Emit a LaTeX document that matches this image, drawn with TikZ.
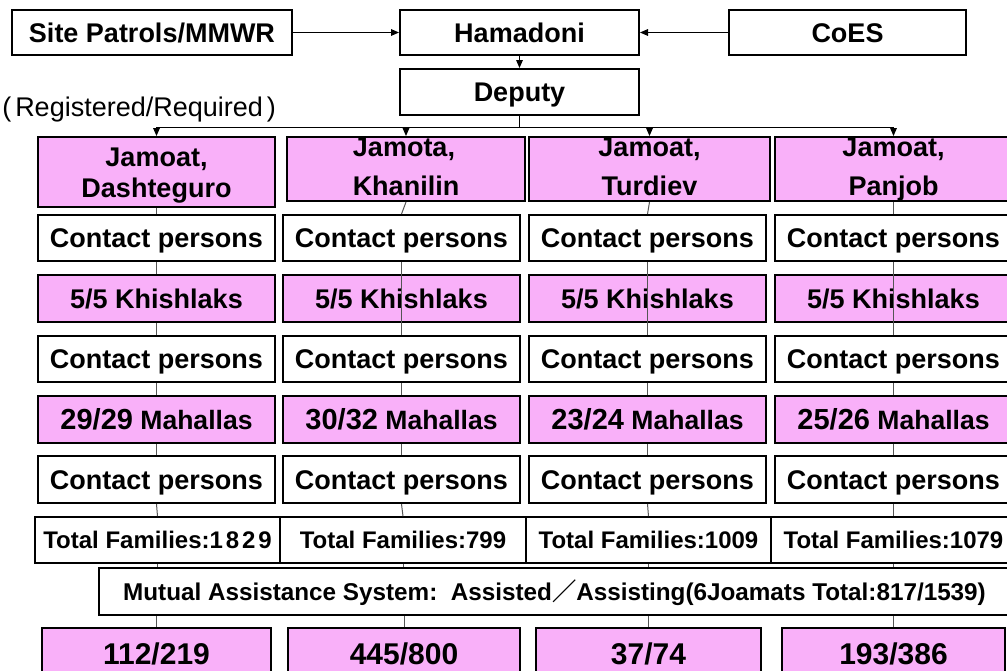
\documentclass[tikz,border=0pt]{standalone}
\usepackage{fontspec}
\setmainfont{Liberation Sans}
\newfontfamily\cjk{Noto Sans CJK JP}
\usetikzlibrary{arrows.meta}
\definecolor{cellpink}{RGB}{249,176,249}
\definecolor{linkgray}{RGB}{85,85,85}

% box given by its corners in pixel units: style, name, x1, y1, x2, y2, text
\newcommand\cellnode[7]{%
  \node[#1, minimum width={(#5-#3)*0.75pt}, minimum height={(#6-#4)*0.75pt}]
    (#2) at ({(#3+#5)/2},{(#4+#6)/2}) {#7};}
\newcommand\mahal[1]{{\fontsize{21.75}{24}\selectfont #1}\ Mahallas}

\tikzset{
  box/.style={draw=black, line width=1.5pt, inner sep=0pt,
    font=\bfseries\fontsize{20.25}{24}\selectfont, text height=14.5pt, text depth=0pt},
  pinkbox/.style={box, fill=cellpink},
  whitebox/.style={box, fill=white},
  mahbox/.style={pinkbox, font=\bfseries\fontsize{19.9}{24}\selectfont, text height=15.6pt},
  fambox/.style={whitebox, line width=1.2pt, font=\bfseries\fontsize{18}{22}\selectfont, text height=12.9pt},
  numbox/.style={pinkbox, font=\bfseries\fontsize{22.5}{27}\selectfont, text height=16.1pt},
  jamline/.style={font=\bfseries\fontsize{20.25}{24}\selectfont, inner sep=0pt, anchor=base},
  flow/.style={draw=black, line width=0.75pt, -{Triangle[length=6pt,width=5pt]}},
  link/.style={draw=linkgray, line width=0.75pt},
}

\begin{document}
\begin{tikzpicture}[x=0.75pt,y=-0.75pt]
\useasboundingbox (0,0) rectangle (1007,671);
\clip (0,0) rectangle (1007,671);
\fill[white] (0,0) rectangle (1007,671);

% top level
\cellnode{whitebox}{site}{12}{10}{292}{55}{Site Patrols/MMWR}
\cellnode{whitebox}{ham}{400}{10}{639}{55}{Hamadoni}
\cellnode{whitebox}{coes}{729}{10}{966}{55}{CoES}
\cellnode{whitebox}{dep}{400}{69}{639}{115}{Deputy}
\node[font=\fontsize{20.25}{24}\selectfont, inner sep=0pt, anchor=base west] (regnote) at (2,116)
  {(\kern3pt Registered/Required\kern3pt)};

% jamoats
\cellnode{pinkbox}{jam1}{38}{137}{275}{207}{}
\cellnode{pinkbox}{jam2}{287}{137}{525}{201}{}
\cellnode{pinkbox}{jam3}{529}{137}{770}{201}{}
\cellnode{pinkbox}{jam4}{775}{137}{1012}{201}{}
\node[jamline] (jam1a) at (156.5,166) {Jamoat,};
\node[jamline] (jam1b) at (156.5,197) {Dashteguro};
\node[jamline] (jam2a) at (404,156) {Jamota,};
\node[jamline] (jam2b) at (406,195) {Khanilin};
\node[jamline] (jam3a) at (649.5,156) {Jamoat,};
\node[jamline] (jam3b) at (649.5,195) {Turdiev};
\node[jamline] (jam4a) at (893.5,156) {Jamoat,};
\node[jamline] (jam4b) at (893.5,195) {Panjob};

% contact persons, khishlaks, mahallas
\cellnode{whitebox}{ca1}{38}{215}{275}{261}{Contact persons}
\cellnode{whitebox}{ca2}{283}{215}{520}{261}{Contact persons}
\cellnode{whitebox}{ca3}{529}{215}{766}{261}{Contact persons}
\cellnode{whitebox}{ca4}{775}{215}{1012}{261}{Contact persons}

\cellnode{pinkbox}{kh1}{38}{275}{275}{322}{5/5 Khishlaks}
\cellnode{pinkbox}{kh2}{283}{275}{520}{322}{5/5 Khishlaks}
\cellnode{pinkbox}{kh3}{529}{275}{766}{322}{5/5 Khishlaks}
\cellnode{pinkbox}{kh4}{775}{275}{1012}{322}{5/5 Khishlaks}

\cellnode{whitebox}{cb1}{38}{336}{275}{382}{Contact persons}
\cellnode{whitebox}{cb2}{283}{336}{520}{382}{Contact persons}
\cellnode{whitebox}{cb3}{529}{336}{766}{382}{Contact persons}
\cellnode{whitebox}{cb4}{775}{336}{1012}{382}{Contact persons}

\cellnode{mahbox}{mh1}{38}{396}{275}{443}{\mahal{29/29}}
\cellnode{mahbox}{mh2}{283}{396}{520}{443}{\mahal{30/32}}
\cellnode{mahbox}{mh3}{529}{396}{766}{443}{\mahal{23/24}}
\cellnode{mahbox}{mh4}{775}{396}{1012}{443}{\mahal{25/26}}

\cellnode{whitebox}{cc1}{38}{456}{275}{503}{Contact persons}
\cellnode{whitebox}{cc2}{283}{456}{520}{503}{Contact persons}
\cellnode{whitebox}{cc3}{529}{456}{766}{503}{Contact persons}
\cellnode{whitebox}{cc4}{775}{456}{1012}{503}{Contact persons}

% families
\cellnode{fambox}{tf1}{35}{517}{280}{563}{Total Families:{\addfontfeature{LetterSpace=12}1829}}
\cellnode{fambox}{tf2}{280}{517}{526}{563}{Total Families:799}
\cellnode{fambox}{tf3}{526}{517}{771}{563}{Total Families:1009}
\cellnode{fambox}{tf4}{771}{517}{1016}{563}{Total Families:1079}

% mutual assistance
\cellnode{fambox, line width=1.5pt, font=\bfseries\fontsize{18.2}{22}\selectfont}{mas}{99}{568}{1010}{615}
  {Mutual Assistance System:\ \ Assisted{\cjk ／}Assisting(6Joamats Total:817/1539)}

\cellnode{numbox}{nb1}{42}{628}{271}{680}{112/219}
\cellnode{numbox}{nb2}{288}{628}{520}{680}{445/800}
\cellnode{numbox}{nb3}{536}{628}{761}{680}{37/74}
\cellnode{numbox}{nb4}{782}{628}{1005}{680}{193/386}

% reporting arrows
\draw[flow] (site.east) -- (ham.west);
\draw[flow] (coes.west) -- (ham.east);
\draw[flow] (ham.south) -- (dep.north);
\coordinate (bus) at ([yshift=-11*0.75pt]dep.south);
\foreach \j in {1,2,3,4} {
  \draw[flow] (dep.south) -- (bus) -| (jam\j.north);
}

% column links
\foreach \j in {1,2,3,4} {
  \draw[link] (jam\j.south) -- (ca\j.north);
  \draw[link] (cb\j.south) -- (mh\j.north);
  \draw[link] (mh\j.south) -- (cc\j.north);
  \draw[link] (cc\j.south) -- (tf\j.north);
  \draw[link] (tf\j.south) -- (tf\j.south |- mas.north);
  \draw[link] (nb\j.north |- mas.south) -- (nb\j.north);
}
\draw[link] (ca1.south) -- (kh1.north);
\draw[link] (kh1.south) -- (cb1.north);
\foreach \j in {2,3,4} {
  \draw[link] (ca\j.south) -- (cb\j.north);
}
\end{tikzpicture}
\end{document}
